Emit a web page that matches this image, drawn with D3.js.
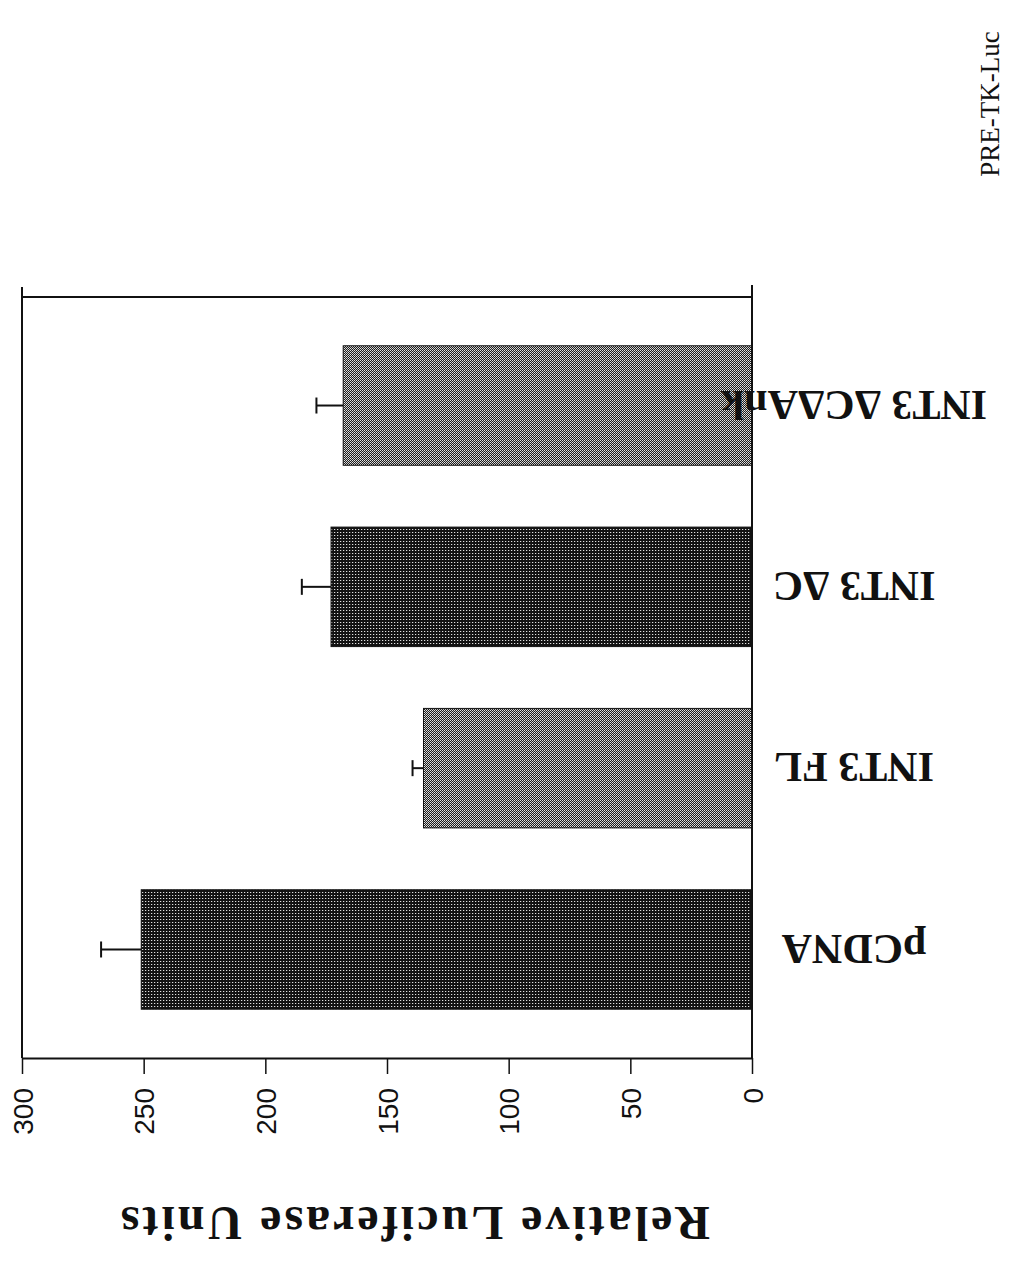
<!DOCTYPE html>
<html>
<head>
<meta charset="utf-8">
<script src="https://cdn.jsdelivr.net/npm/d3@7"></script>
<style>
  html, body { margin: 0; padding: 0; background: #fff; }
  svg { display: block; }
</style>
</head>
<body>
<svg id="chart" width="1023" height="1261"></svg>
<script>
// ---- data ----
const categories = ["pCDNA", "INT3 FL", "INT3 ΔC", "INT3 ΔCΔAnk"];
const values = [251, 135, 173, 168];
const errors = [16.5, 4.5, 12, 11];
const shades = ["dark", "light", "dark", "light"];
const tickValues = [0, 50, 100, 150, 200, 250, 300];
const axisTitle = "Relative Luciferase Units";
const cornerLabel = "PRE-TK-Luc";

(function () {
const svg = d3.select("#chart");

const pLeft = 22, pRight = 752, pTop = 297, pBottom = 1058;

const x = d3.scaleLinear().domain([0, 300]).range([pRight, pLeft]);
const y = d3.scaleBand().domain(categories).range([pBottom, pTop])
  .paddingInner(0.341).paddingOuter(0.269);

// patterns
const defs = svg.append("defs");
const pd = defs.append("pattern").attr("id", "dark").attr("patternUnits", "userSpaceOnUse")
  .attr("width", 3).attr("height", 3);
pd.append("rect").attr("width", 3).attr("height", 3).attr("fill", "#121212");
pd.append("rect").attr("x", 1).attr("y", 1).attr("width", 1).attr("height", 1).attr("fill", "#e0e0e0");
pd.append("rect").attr("x", 2).attr("y", 1).attr("width", 1).attr("height", 1).attr("fill", "#444");

const pl = defs.append("pattern").attr("id", "light").attr("patternUnits", "userSpaceOnUse")
  .attr("width", 2).attr("height", 2);
pl.append("rect").attr("width", 2).attr("height", 2).attr("fill", "#1e1e1e");
pl.append("rect").attr("x", 0).attr("y", 0).attr("width", 1).attr("height", 1).attr("fill", "#e4e4e4");
pl.append("rect").attr("x", 1).attr("y", 1).attr("width", 1).attr("height", 1).attr("fill", "#c0c0c0");

// bars
const data = categories.map((c, i) => ({ c, v: values[i], e: errors[i], s: shades[i] }));
svg.append("g").selectAll("rect").data(data).enter().append("rect")
  .attr("x", d => x(d.v))
  .attr("y", d => y(d.c))
  .attr("width", d => x(0) - x(d.v))
  .attr("height", y.bandwidth())
  .attr("fill", d => `url(#${d.s})`)
  .attr("stroke", "#111").attr("stroke-width", 1);

// error bars
const eg = svg.append("g").attr("stroke", "#111").attr("stroke-width", 2);
data.forEach(d => {
  const cy = y(d.c) + y.bandwidth() / 2;
  eg.append("line").attr("x1", x(d.v)).attr("x2", x(d.v + d.e)).attr("y1", cy).attr("y2", cy);
  eg.append("line").attr("x1", x(d.v + d.e)).attr("x2", x(d.v + d.e)).attr("y1", cy - 8).attr("y2", cy + 8);
});

// frame
const fg = svg.append("g").attr("stroke", "#111").attr("stroke-width", 2).attr("fill", "none");
fg.append("line").attr("x1", pLeft).attr("x2", pRight).attr("y1", pTop).attr("y2", pTop);
fg.append("line").attr("x1", pLeft).attr("x2", pLeft).attr("y1", pTop - 10).attr("y2", pBottom);
fg.append("line").attr("x1", pRight).attr("x2", pRight).attr("y1", pTop - 12).attr("y2", pBottom);

// value axis
const axis = d3.axisBottom(x).tickValues(tickValues).tickSize(16).tickSizeOuter(0).tickFormat(d3.format("d"));
const ag = svg.append("g").attr("transform", `translate(0,${pBottom})`).call(axis);
ag.select(".domain").attr("stroke", "#111").attr("stroke-width", 2);
ag.selectAll(".tick line").attr("stroke", "#111").attr("stroke-width", 1.5);
ag.selectAll(".tick text")
  .attr("font-family", "'Liberation Sans', Arial, sans-serif")
  .attr("font-size", 28).attr("fill", "#111")
  .attr("transform", "rotate(-90)")
  .attr("text-anchor", "end")
  .attr("x", -30).attr("y", 0).attr("dy", "0.36em");

// category labels (upside down)
svg.append("g").selectAll("text").data(categories).enter().append("text")
  .attr("transform", d => `translate(854,${y(d) + y.bandwidth() / 2}) rotate(180)`)
  .attr("text-anchor", "middle").attr("dy", "0.35em")
  .attr("font-family", "'Liberation Serif', 'Times New Roman', serif")
  .attr("font-weight", "bold").attr("font-size", 42).attr("fill", "#111")
  .text(d => d);

// axis title (upside down)
svg.append("text")
  .attr("transform", `translate(414,1224) rotate(180)`)
  .attr("text-anchor", "middle").attr("dy", "0.35em")
  .attr("font-family", "'Liberation Serif', 'Times New Roman', serif")
  .attr("font-weight", "bold").attr("font-size", 48).attr("letter-spacing", 3).attr("fill", "#111")
  .text(axisTitle);

// corner label
svg.append("text")
  .attr("transform", `translate(990,104) rotate(-90)`)
  .attr("text-anchor", "middle").attr("dy", "0.35em")
  .attr("font-family", "'Liberation Serif', 'Times New Roman', serif")
  .attr("font-size", 27).attr("fill", "#111")
  .text(cornerLabel);
})();
</script>
</body>
</html>
